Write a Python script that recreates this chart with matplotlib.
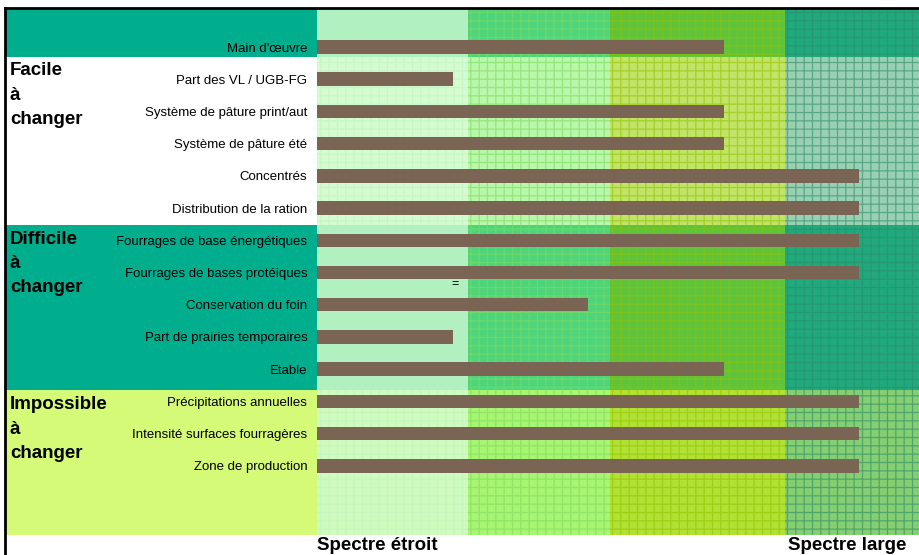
import matplotlib.pyplot as plt
from matplotlib.patches import Rectangle
from matplotlib.lines import Line2D
import matplotlib.transforms as mtransforms

plt.rcParams['font.family'] = ['Liberation Sans', 'DejaVu Sans']
plt.rcParams['hatch.linewidth'] = 0.9

# Critères (de haut en bas) et position sur le spectre
criteres = ["Main d'œuvre", "Part des VL / UGB-FG", "Système de pâture print/aut",
            "Système de pâture été", "Concentrés", "Distribution de la ration",
            "Fourrages de base énergétiques", "Fourrages de bases protéiques",
            "Conservation du foin", "Part de prairies temporaires", "Etable",
            "Précipitations annuelles", "Intensité surfaces fourragères",
            "Zone de production"]
valeurs = [3, 1, 3, 3, 4, 4, 4, 4, 2, 1, 3, 4, 4, 4]

# Colonnes de fond (spectre étroit -> large)
bornes_colonnes = [0, 1.11, 2.16, 3.45, 4.44]
couleurs_colonnes = [(207/255, 252/255, 202/255, 0.86),
                     (135/255, 242/255, 110/255, 0.58),
                     (155/255, 210/255, 10/255, 0.62),
                     (62/255, 166/255, 108/255, 0.52)]
couleurs_trame = [(0.72, 0.94, 0.74, 0.45), (0.50, 0.86, 0.38, 0.6),
                  (0.58, 0.76, 0.0, 0.6), (0.17, 0.55, 0.42, 0.6)]

# Bandes des groupes (en unités de lignes)
bornes_bandes = [-1.18, 0.31, 5.53, 10.65, 15.15]
couleurs_bandes = ["#00ae8e", "white", "#00ae8e", "#d4fa78"]
groupes = ["Facile\nà\nchanger", "Difficile\nà\nchanger", "Impossible\nà\nchanger"]
groupes_y = [0.48, 5.7, 10.85]

fig = plt.figure(figsize=(9.19, 5.55), dpi=100)
ax = fig.add_axes([317/919, 1 - 535/555, 602/919, 526/555])

# bandes sur toute la largeur (panneau gauche compris)
trans = mtransforms.blended_transform_factory(ax.transAxes, ax.transData)
for (y0, y1), c in zip(zip(bornes_bandes[:-1], bornes_bandes[1:]), couleurs_bandes):
    ax.add_patch(Rectangle((-0.518, y0), 1.518, y1 - y0, transform=trans,
                           facecolor=c, edgecolor="none", clip_on=False, zorder=0))

# colonnes tramées
for (x0, x1), fc, hc in zip(zip(bornes_colonnes[:-1], bornes_colonnes[1:]),
                            couleurs_colonnes, couleurs_trame):
    ax.add_patch(Rectangle((x0, bornes_bandes[0]), x1 - x0,
                           bornes_bandes[-1] - bornes_bandes[0],
                           facecolor=fc, edgecolor=hc, hatch="++", linewidth=0, zorder=1))

pos = list(range(len(criteres)))
ax.barh(pos, valeurs, height=0.42, color="#7a6453", zorder=3)

ax.set_xlim(bornes_colonnes[0], bornes_colonnes[-1])
ax.set_ylim(bornes_bandes[-1], bornes_bandes[0])
ax.set_yticks(pos)
ax.set_yticklabels(criteres, fontsize=9.5)
ax.tick_params(axis="y", length=0, pad=7)
ax.set_xticks([])
for s in ax.spines.values():
    s.set_visible(False)

for g, gy in zip(groupes, groupes_y):
    ax.text(-0.51, gy, g, transform=trans, fontsize=13.5, fontweight="bold",
            va="top", ha="left", linespacing=1.55)

ax.text(1.02, 7.36, "=", fontsize=9, ha="center", va="center")

fig.text(317/919, 1 - 545/555, "Spectre étroit", fontsize=13.5, fontweight="bold",
         ha="left", va="center")
fig.text(906/919, 1 - 545/555, "Spectre large", fontsize=13.5, fontweight="bold",
         ha="right", va="center")

# cadre
fig.add_artist(Line2D([5/919, 1], [1 - 8/555, 1 - 8/555], color="black", lw=2))
fig.add_artist(Line2D([5/919, 5/919], [0, 1 - 8/555], color="black", lw=2))

fig.savefig("out.png", dpi=100)
